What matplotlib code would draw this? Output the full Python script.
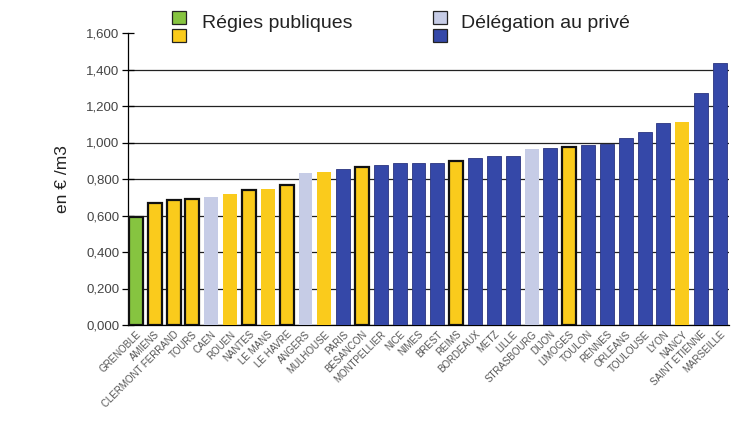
import matplotlib
matplotlib.use("Agg")
import matplotlib.pyplot as plt
from matplotlib.patches import Rectangle

plt.rcParams["font.family"] = ["Liberation Sans", "DejaVu Sans"]

cities = ["GRENOBLE", "AMIENS", "CLERMONT FERRAND", "TOURS", "CAEN", "ROUEN",
          "NANTES", "LE MANS", "LE HAVRE", "ANGERS", "MULHOUSE", "PARIS",
          "BESANCON", "MONTPELLIER", "NICE", "NIMES", "BREST", "REIMS",
          "BORDEAUX", "METZ", "LILLE", "STRASBOURG", "DIJON", "LIMOGES",
          "TOULON", "RENNES", "ORLEANS", "TOULOUSE", "LYON", "NANCY",
          "SAINT ETIENNE", "MARSEILLE"]
prices = [0.590, 0.667, 0.685, 0.690, 0.700, 0.716, 0.740, 0.744, 0.769,
          0.831, 0.838, 0.853, 0.867, 0.877, 0.886, 0.886, 0.886, 0.899,
          0.913, 0.926, 0.926, 0.962, 0.970, 0.977, 0.986, 0.993, 1.026,
          1.059, 1.105, 1.114, 1.269, 1.434]
# g = green (régie), y = yellow (régie), l = light blue (délégation), b = blue (délégation)
kinds = ["g", "y", "y", "y", "l", "y", "y", "y", "y", "l", "y", "b", "y", "b",
         "b", "b", "b", "y", "b", "b", "b", "l", "b", "y", "b", "b", "b", "b",
         "b", "y", "b", "b"]
outlined = [1, 1, 1, 1, 0, 0, 1, 0, 1, 0, 0, 0, 1, 0, 0, 0, 0, 1, 0, 0, 0, 0,
            0, 1, 0, 0, 0, 0, 0, 0, 0, 0]
yticks = [0.0, 0.2, 0.4, 0.6, 0.8, 1.0, 1.2, 1.4, 1.6]
legend_labels = ["Régies publiques", "Délégation au privé"]

palette = {"g": "#86C440", "y": "#FACB1C", "l": "#C6CCE6", "b": "#3548A8"}

fig = plt.figure(figsize=(7.32, 4.26), dpi=100)
ax = fig.add_axes([128 / 732, 101 / 426, 601 / 732, 292 / 426])

x = list(range(len(cities)))
for i, (v, k, o) in enumerate(zip(prices, kinds, outlined)):
    if o:
        ec, lw = "#111111", 1.6
    elif k == "b":
        ec, lw = "#2a3580", 0.6
    else:
        ec, lw = "none", 0
    ax.bar(i, v, width=0.74, color=palette[k], edgecolor=ec, linewidth=lw, zorder=3)

ax.set_xlim(-0.42, 31.48)
ax.set_ylim(0, 1.6)
ax.set_yticks(yticks)
ax.set_yticklabels([f"{t:.3f}".replace(".", ",") for t in yticks],
                   fontsize=9.5, color="#444444")
ax.yaxis.grid(True, color="#222222", linewidth=0.9, zorder=0)
ax.set_axisbelow(True)
ax.tick_params(axis="y", direction="inout", length=8, width=0.9, pad=2)
ax.tick_params(axis="x", length=0, pad=3)
ax.set_xticks(x)
ax.set_xticklabels(cities, rotation=45, ha="right", rotation_mode="anchor",
                   fontsize=7, color="#555555")
for s in ["top", "right"]:
    ax.spines[s].set_visible(False)
ax.spines["left"].set_linewidth(0.9)
ax.spines["bottom"].set_linewidth(0.9)
ax.set_ylabel("en € /m3", fontsize=12.5, color="#222222", labelpad=12)

fig.canvas.draw()
ax.yaxis.get_gridlines()[-1].set_visible(False)

# legend
def sq(px, py, color):
    fig.patches.append(Rectangle((px / 732, 1 - (py + 13) / 426), 14 / 732, 13 / 426,
                                 transform=fig.transFigure, facecolor=color,
                                 edgecolor="#222222", linewidth=0.9))

sq(172, 11, palette["g"])
sq(172, 29, palette["y"])
sq(433, 11, palette["l"])
sq(433, 29, palette["b"])
fig.text(202 / 732, 1 - 24 / 426, legend_labels[0], fontsize=14, va="center",
         color="#222222")
fig.text(461 / 732, 1 - 24 / 426, legend_labels[1], fontsize=14, va="center",
         color="#222222")

fig.savefig("out.png", dpi=100)
